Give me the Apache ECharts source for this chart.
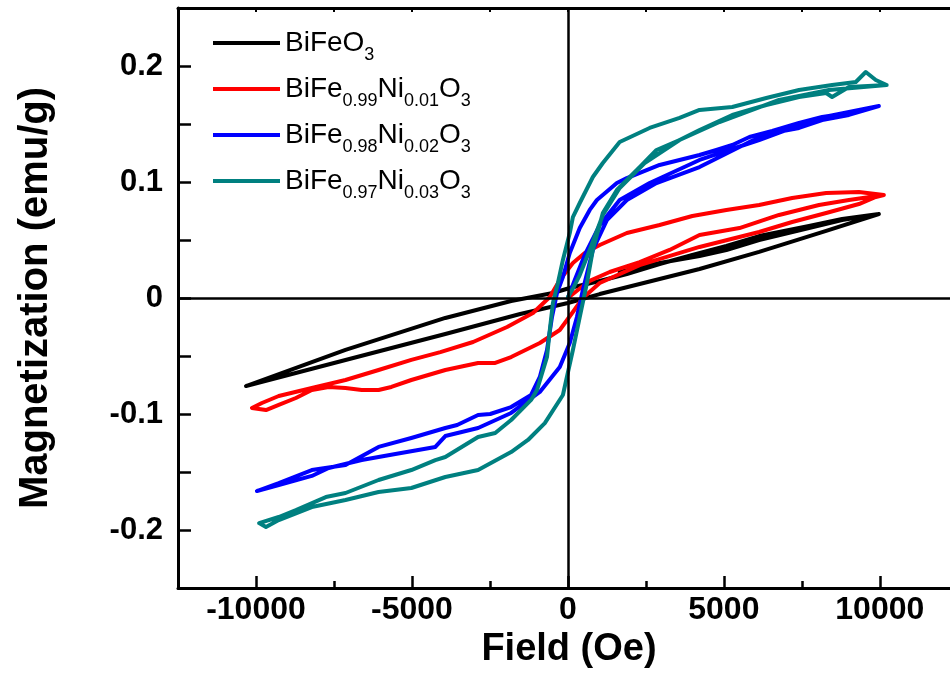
<!DOCTYPE html>
<html><head><meta charset="utf-8">
<script src="https://cdn.jsdelivr.net/npm/echarts@6/dist/echarts.min.js"></script>
<style>html,body{margin:0;padding:0;background:#fff}#c{width:950px;height:678px}</style>
</head><body><div id="c"></div>
<script>
// ---- data (Field in Oe, Magnetization in emu/g) ----
const seriesNames = ['BiFeO3', 'BiFe0.99Ni0.01O3', 'BiFe0.98Ni0.02O3', 'BiFe0.97Ni0.03O3'];
const legendLabels = ['BiFeO{s|3}', 'BiFe{s|0.99}Ni{s|0.01}O{s|3}', 'BiFe{s|0.98}Ni{s|0.02}O{s|3}', 'BiFe{s|0.97}Ni{s|0.03}O{s|3}'];
const seriesColors = ['#000000', '#ff0000', '#0000ff', '#008080'];

const xMajorTicks = [-10000, -5000, 0, 5000, 10000];
const xMinorTicks = [-7500, -2500, 2500, 7500];
const xTopTicks = [-10000, -7500, -5000, -2500, 0, 2500, 5000, 7500, 10000];
const yLabelTicks = [-0.2, -0.1, 0, 0.1, 0.2];
const yTickMarks = [-0.2, -0.15, -0.1, -0.05, 0, 0.05, 0.1, 0.15, 0.2];

// BiFeO3
const bfoInitial = [[1660,0.0224],[2940,0.0302],[4220,0.0362],[5080,0.0414],[6130,0.0500],[7730,0.0603],[8790,0.0672],[9970,0.0724]];
const bfoDown = [[8790,0.0681],[7730,0.0621],[6130,0.0534],[5080,0.0448],[3990,0.0371],[2940,0.0293],[1890,0.0207],[1020,0.0147],[60,0.0086],[-480,0.0043],[-1820,-0.0026],[-3930,-0.0172],[-7130,-0.0448],[-10320,-0.0759]];
const bfoUp = [[-7130,-0.0534],[-3930,-0.0310],[-1530,-0.0138],[0,-0.0043],[1020,0.0034],[2940,0.0164],[4220,0.0250],[6130,0.0397],[8280,0.0578],[9970,0.0724]];

// BiFe0.99Ni0.01O3
const ni1Initial = [[0,0],[320,0.0069],[700,0.0147],[1340,0.0224],[2300,0.0310],[3260,0.0414],[4220,0.0543],[5500,0.0603],[6770,0.0716],[8050,0.0802],[9010,0.0845],[10130,0.0888]];
const ni1Down = [[9330,0.0914],[8280,0.0905],[7190,0.0862],[6130,0.0802],[5080,0.0759],[3990,0.0707],[2940,0.0629],[1890,0.0560],[1020,0.0457],[540,0.0388],[160,0.0302],[-260,0.0155],[-580,0.0009],[-1120,-0.0129],[-1950,-0.0250],[-3040,-0.0379],[-4090,-0.0466],[-5020,-0.0534],[-6070,-0.0621],[-7130,-0.0707],[-8210,-0.0776],[-9270,-0.0845],[-9810,-0.0905],[-10130,-0.0948]];
const ni1Up = [[-9680,-0.0966],[-9270,-0.0922],[-8720,-0.0862],[-8210,-0.0793],[-7670,-0.0767],[-7130,-0.0776],[-6610,-0.0793],[-6070,-0.0793],[-5660,-0.0767],[-5020,-0.0707],[-3930,-0.0621],[-2880,-0.0560],[-2330,-0.0560],[-1820,-0.0509],[-900,-0.0388],[-260,-0.0276],[160,-0.0121],[480,0],[1020,0.0129],[2300,0.0284],[4220,0.0440],[6130,0.0569],[7190,0.0655],[8280,0.0733],[9330,0.0810],[9870,0.0871],[10130,0.0888]];

// BiFe0.98Ni0.02O3
const ni2Initial = [[0,0],[220,0.0155],[540,0.0371],[1020,0.0629],[1660,0.0845],[2620,0.0991],[4220,0.1190],[6130,0.1362],[8050,0.1552],[9970,0.1655]];
const ni2Down = [[9010,0.1595],[8150,0.1560],[7410,0.1509],[6550,0.1440],[5820,0.1388],[5270,0.1319],[4760,0.1276],[4220,0.1233],[2940,0.1147],[1890,0.1034],[1570,0.0991],[930,0.0845],[700,0.0759],[380,0.0603],[60,0.0388],[-160,0.0181],[-350,0.0043],[-510,-0.0164],[-670,-0.0448],[-900,-0.0681],[-1180,-0.0836],[-1820,-0.0940],[-2490,-0.1000],[-2880,-0.1009],[-3550,-0.1095],[-3930,-0.1121],[-5020,-0.1207],[-6070,-0.1284],[-7130,-0.1440],[-8210,-0.1483],[-9270,-0.1595],[-9970,-0.1664]];
const ni2Up = [[-9270,-0.1612],[-8210,-0.1534],[-7670,-0.1466],[-6610,-0.1397],[-5530,-0.1345],[-4250,-0.1284],[-3930,-0.1190],[-2880,-0.1121],[-1820,-0.0991],[-900,-0.0810],[-260,-0.0595],[60,-0.0388],[290,-0.0164],[480,0.0069],[800,0.0414],[1250,0.0672],[1890,0.0845],[2840,0.0991],[4220,0.1129],[5820,0.1345],[6550,0.1422],[7410,0.1466],[8150,0.1534],[9010,0.1578],[9970,0.1655]];

// BiFe0.97Ni0.03O3
const ni3Initial = [[0,0.0009],[190,0.0095],[380,0.0198],[700,0.0414],[1120,0.0716],[1660,0.0948],[2460,0.1164],[3580,0.1362],[4860,0.1517],[6770,0.1707],[8370,0.1793],[10220,0.1836]];
const ni3Down = [[9870,0.1879],[9550,0.1948],[9230,0.1862],[8470,0.1836],[7410,0.1793],[6360,0.1724],[5270,0.1647],[4220,0.1621],[3580,0.1552],[2620,0.1466],[1660,0.1345],[1120,0.1164],[800,0.1043],[380,0.0819],[160,0.0698],[60,0.0560],[-160,0.0328],[-320,0.0129],[-480,-0.0043],[-580,-0.0276],[-670,-0.0509],[-990,-0.0793],[-1180,-0.0879],[-1820,-0.1052],[-2330,-0.1164],[-2880,-0.1198],[-3930,-0.1371],[-4250,-0.1397],[-5020,-0.1483],[-6070,-0.1569],[-7130,-0.1681],[-7760,-0.1716],[-8720,-0.1828],[-9270,-0.1888],[-9900,-0.1940]];
const ni3Up = [[-9680,-0.1974],[-9270,-0.1914],[-8210,-0.1802],[-7130,-0.1741],[-6070,-0.1672],[-5020,-0.1638],[-3930,-0.1543],[-2880,-0.1483],[-1820,-0.1328],[-1280,-0.1224],[-740,-0.1078],[-160,-0.0836],[160,-0.0448],[380,-0.0164],[610,0.0129],[800,0.0414],[1120,0.0733],[1570,0.0931],[2300,0.1129],[2840,0.1276],[3580,0.1362],[4220,0.1448],[5270,0.1578],[6360,0.1664],[7410,0.1733],[8280,0.1767],[8470,0.1733],[9010,0.1819],[10220,0.1836]];

const loops = [
  bfoInitial.concat(bfoDown, bfoUp),
  ni1Initial.concat(ni1Down, ni1Up),
  ni2Initial.concat(ni2Down, ni2Up),
  ni3Initial.concat(ni3Down, ni3Up)
];

const FONT = "'Liberation Sans', Arial, Helvetica, sans-serif";
const chart = echarts.init(document.getElementById('c'), null, {renderer: 'canvas'});

const series = loops.map((d, i) => ({
  name: seriesNames[i],
  type: 'line',
  data: d,
  showSymbol: false,
  symbol: 'none',
  smooth: false,
  clip: true,
  lineStyle: {color: seriesColors[i], width: 4, join: 'round', cap: 'round'},
  itemStyle: {color: seriesColors[i]},
  z: 3
}));
series[0].markLine = {
  silent: true,
  symbol: ['none', 'none'],
  label: {show: false},
  lineStyle: {color: '#000', type: 'solid', width: 2.5},
  data: [{xAxis: 0}, {yAxis: 0}],
  animation: false
};

const labelFmt = v => String(parseFloat(Number(v).toFixed(3)));
const X_MIN = -12500, X_MAX = 12250;

chart.setOption({
  backgroundColor: '#fff',
  animation: false,
  grid: {left: 178, top: 8, bottom: 90, right: 0, containLabel: false},
  legend: {
    left: 213, top: 22, orient: 'vertical', padding: 0, itemGap: 4,
    itemWidth: 67, itemHeight: 4, icon: 'rect',
    data: seriesNames,
    formatter: name => legendLabels[seriesNames.indexOf(name)],
    textStyle: {
      fontFamily: FONT, fontSize: 28, color: '#000', lineHeight: 40,
      rich: {s: {fontFamily: FONT, fontSize: 18, color: '#000', lineHeight: 16, padding: [24, 0, 0, 0]}}
    }
  },
  xAxis: [
    {
      type: 'value', position: 'bottom', min: X_MIN, max: X_MAX,
      name: 'Field (Oe)', nameLocation: 'middle', nameGap: 36,
      nameTextStyle: {fontFamily: FONT, fontSize: 38, fontWeight: 'bold', color: '#000', padding: [0, 0, 0, 10]},
      axisLine: {show: true, onZero: false, lineStyle: {color: '#000', width: 3}},
      axisTick: {show: true, inside: true, length: 12, customValues: xMajorTicks, lineStyle: {color: '#000', width: 2.5}},
      axisLabel: {show: true, customValues: xMajorTicks, margin: 6, fontFamily: FONT, fontSize: 32, fontWeight: 'bold', color: '#000', formatter: labelFmt},
      splitLine: {show: false}
    },
    {
      type: 'value', position: 'bottom', min: X_MIN, max: X_MAX,
      axisLine: {show: false, onZero: false},
      axisTick: {show: true, inside: true, length: 7, customValues: xMinorTicks, lineStyle: {color: '#000', width: 2.5}},
      axisLabel: {show: false},
      splitLine: {show: false}
    },
    {
      type: 'value', position: 'top', min: X_MIN, max: X_MAX,
      axisLine: {show: true, onZero: false, lineStyle: {color: '#000', width: 3}},
      axisTick: {show: true, inside: true, length: 4, customValues: xTopTicks, lineStyle: {color: '#000', width: 2}},
      axisLabel: {show: false},
      splitLine: {show: false}
    }
  ],
  yAxis: [
    {
      type: 'value', position: 'left', min: -0.25, max: 0.25,
      name: 'Magnetization (emu/g)', nameLocation: 'middle', nameGap: 122, nameRotate: 90,
      nameTextStyle: {fontFamily: FONT, fontSize: 40, fontWeight: 'bold', color: '#000'},
      axisLine: {show: true, onZero: false, lineStyle: {color: '#000', width: 3}},
      axisTick: {show: true, inside: true, length: 13, customValues: yTickMarks, lineStyle: {color: '#000', width: 2.5}},
      axisLabel: {show: true, customValues: yLabelTicks, margin: 15, fontFamily: FONT, fontSize: 31, fontWeight: 'bold', color: '#000', formatter: labelFmt},
      splitLine: {show: false}
    }
  ],
  series: series
});
</script></body></html>
